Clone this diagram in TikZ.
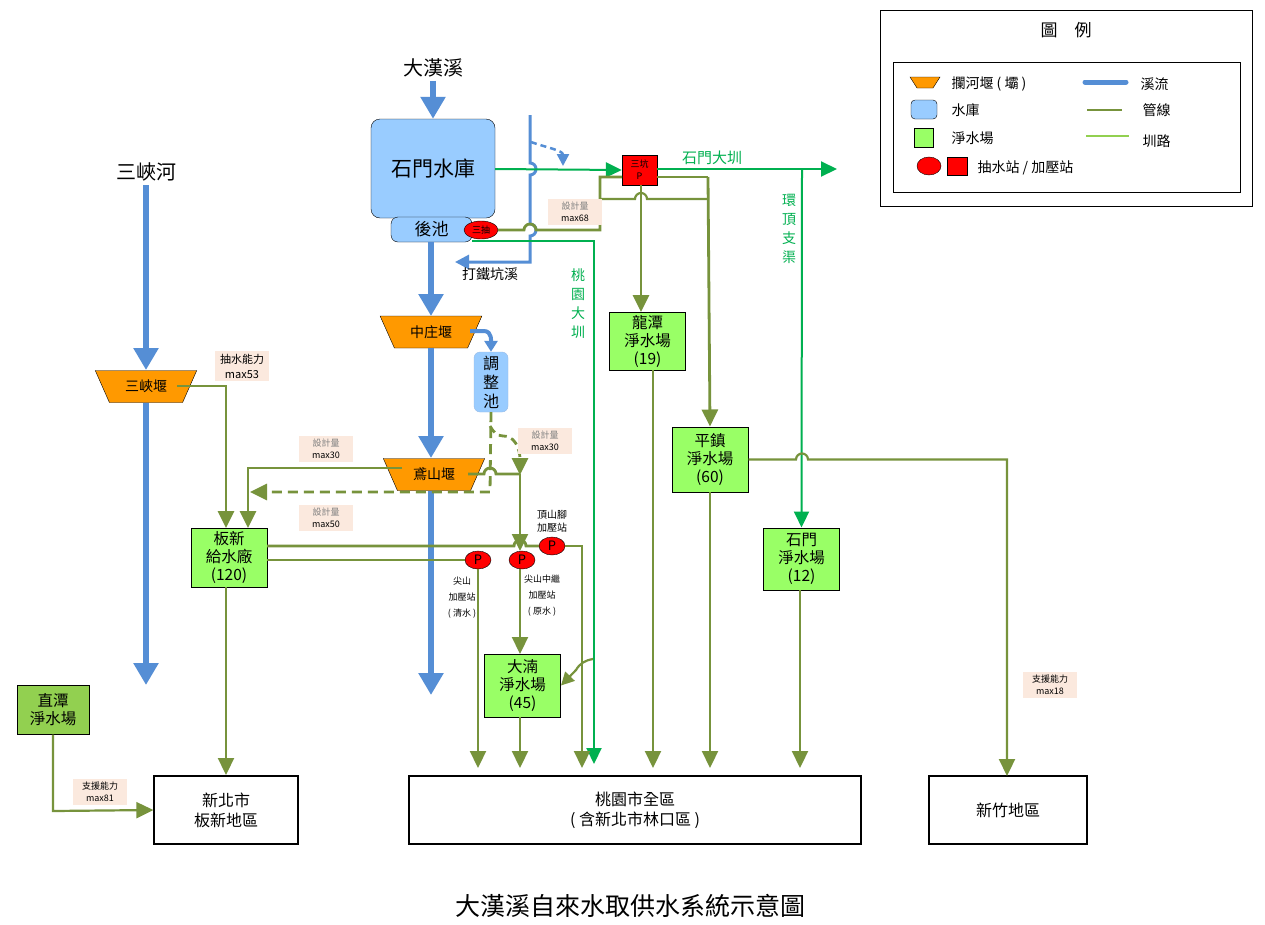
\documentclass[tikz,border=0pt]{standalone}
\usepackage{fontspec}
\setmainfont{Noto Sans CJK TC}
\usetikzlibrary{arrows.meta,shapes.geometric}
\definecolor{riv}{HTML}{558ED5}
\definecolor{pipe}{HTML}{77933C}
\definecolor{canal}{HTML}{00B050}
\definecolor{dam}{HTML}{FF9900}
\definecolor{res}{HTML}{99CCFF}
\definecolor{plant}{HTML}{99FF66}
\definecolor{plant2}{HTML}{92D050}
\definecolor{lab}{HTML}{FBE9DE}
\definecolor{cl}{HTML}{92D050}
\begin{document}
\begin{tikzpicture}[x=1pt,y=-1pt,
 river/.style={riv,line width=6.5pt,-{Triangle[width=24pt,length=22pt]}},
 rivs/.style={riv,line width=3pt},
 pp/.style={pipe,line width=2.8pt},
 ppa/.style={pipe,line width=2.8pt,-{Triangle[width=16pt,length=17pt]}},
 pth/.style={pipe,line width=2.2pt,-{Triangle[width=16pt,length=17pt]}},
 cna/.style={canal,line width=2pt,-{Triangle[width=15pt,length=16pt]}},
 plantbox/.style={draw=black,fill=plant,line width=1pt,minimum width=76pt,align=center,font=\fontsize{15.5}{18}\selectfont,inner sep=1pt},
 weir/.style={trapezium,shape border rotate=180,trapezium left angle=58,trapezium right angle=58,draw=black,fill=dam,minimum width=102pt,minimum height=32pt,inner sep=0pt,trapezium stretches=true,font=\fontsize{14}{16}\selectfont},
 tag/.style={fill=lab,align=center,font=\fontsize{9}{12}\selectfont,inner sep=3pt,minimum width=54pt},
 pump/.style={ellipse,draw=black,fill=red,minimum width=26pt,minimum height=18pt,inner sep=0pt,font=\fontsize{13}{13}\selectfont},
 small/.style={font=\fontsize{10}{13}\selectfont,align=center},
 leg/.style={anchor=west,font=\fontsize{14}{16}\selectfont},
 dest/.style={draw=black,line width=1.2pt,fill=white,align=center,font=\fontsize{16}{20}\selectfont}]
\useasboundingbox (0,0) rectangle (1265,924);
\fill[white] (0,0) rectangle (1265,924);

% legend
\draw[line width=1pt] (880,10) rectangle (1252,206);
\node at (1066,30) {\fontsize{17}{20}\selectfont 圖\quad 例};
\draw[line width=1pt] (893,62) rectangle (1240,192);
\fill[dam,draw=black] (910,77)--(940,77)--(933,88)--(917,88)--cycle;
\node[leg] at (948,84) {攔河堰 ( 壩 )};
\draw[fill=res,rounded corners=4pt] (911,100) rectangle (937,119);
\node[leg] at (948,110) {水庫};
\draw[fill=plant] (914,128) rectangle (933,147);
\node[leg] at (948,138) {淨水場};
\draw[fill=red] (929,166) ellipse (12pt and 9pt);
\draw[fill=red] (947,157) rectangle (967,175);
\node[leg] at (974,168) {抽水站 / 加壓站};
\draw[riv,line width=5pt,line cap=round] (1085,82)--(1126,82);
\node[leg] at (1137,84) {溪流};
\draw[pipe,line width=2pt] (1087,110)--(1122,110);
\node[leg] at (1139,110) {管線};
\draw[cl,line width=2pt] (1086,136)--(1129,136);
\node[leg] at (1139,141) {圳路};

% rivers / nodes
\node (dhx) at (433,68) {\fontsize{20}{22}\selectfont 大漢溪};
\node[draw=black,fill=res,rounded corners=9pt,minimum width=124pt,minimum height=99pt,font=\fontsize{21}{24}\selectfont] (smr) at (433,168.5) {石門水庫};
\node[draw=black,fill=res,rounded corners=7pt,minimum width=81pt,minimum height=25pt,font=\fontsize{17}{19}\selectfont,inner sep=0pt] (hc) at (431.5,229.5) {後池};
\node[pump,minimum width=34pt,font=\fontsize{9}{9}\selectfont] (sc) at (481,230) {三抽};
\draw[river] (dhx.south) -- (smr.north);
\node[weir] (zz) at (431,332) {中庄堰};
\node[weir] (ys) at (434,474.5) {鳶山堰};
\draw[river] (431,242) -- (431,316);
\draw[river] (431,348) -- (431,458);
\coordinate (ysend) at (431,695);
\draw[river] (431,491) -- (ysend);
\node (sxh) at (146,172) {\fontsize{20}{22}\selectfont 三峽河};
\node[weir] (sx) at (146,386.5) {三峽堰};
\draw[river] (146,185) -- (146,370);
\coordinate (sxend) at (146,685);
\draw[river] (146,403) -- (sxend);
\node[draw=riv!60,fill=res,rounded corners=6pt,minimum width=34pt,minimum height=60pt,align=center,font=\fontsize{16}{19}\selectfont,inner sep=0pt] (tzc) at (491,382) {調\\整\\池};
\draw[riv,line width=4pt,-{Triangle[width=13pt,length=11pt]}] (470,331) -- (484,331) to[out=0,in=90] (tzc.north);

% 打鐵坑溪
\coordinate (dtk) at (455,262);
\draw[rivs,-{Triangle[width=14pt,length=14pt]}] (530,115) -- (530,163) arc (-90:90:6) -- (530,224) arc(-90:90:6) -- (530,262) -- (dtk);
\draw[riv,line width=2.5pt,dash pattern=on 6pt off 4pt,-{Triangle[width=12pt,length=12pt]}] (531,142) to[out=-20,in=90] (563,166);
\node[font=\fontsize{14}{16}\selectfont] at (490,274) {打鐵坑溪};

% canals
\node[draw=black,fill=red,minimum width=35pt,minimum height=30pt,align=center,font=\fontsize{9}{12}\selectfont,inner sep=0pt] (sk) at (639.5,170) {三坑\\P};
\coordinate (smdze) at (837,169);
\draw[cna] (495,169) -- (sk.west);
\draw[cna] (657,169) -- (smdze);
\node[canal,font=\fontsize{15}{17}\selectfont] at (712,158) {石門大圳};
\node[plantbox,minimum height=58pt] (lt) at (647.5,341) {龍潭\\淨水場\\(19)};
\node[plantbox,minimum height=65pt] (pz) at (710,459.5) {平鎮\\淨水場\\(60)};
\node[plantbox,minimum height=62pt] (sm) at (801.5,559) {石門\\淨水場\\(12)};
\draw[cna] (802,169) -- (sm.north);
\node[canal,align=center,font=\fontsize{14}{19}\selectfont] at (789,229) {環\\頂\\支\\渠};
\coordinate (tyend) at (594,764);
\draw[cna] (472,241) -- (594,241) -- (tyend);
\node[canal,align=center,font=\fontsize{14}{19}\selectfont] at (578,304) {桃\\園\\大\\圳};

% pipes from 三抽 and 三坑
\draw[pp] (sc.east) -- (524,230) arc(180:360:6) -- (600,230) -- (600,177) -- (622,177);
\draw[pipe,line width=2.2pt] (600,199) -- (635,199) arc(180:360:6) -- (708,199);
\draw[pp] (657,177) -- (708,177);
\draw[ppa] (708,177) -- (pz.north);
\draw[ppa] (641,185) -- (641,312);
\node[tag] at (575,212) {\textcolor{gray}{設計量}\\max68};

% destinations
\node[dest,minimum width=452pt,minimum height=68pt] (ty) at (635,810) {桃園市全區\\( 含新北市林口區 )};
\node[dest,minimum width=144pt,minimum height=68pt] (xb) at (226,810) {新北市\\板新地區};
\node[dest,minimum width=158pt,minimum height=68pt] (xz) at (1008,810) {新竹地區};
\node[plantbox,fill=plant2,minimum width=72pt,minimum height=49pt] (zt) at (53,709.5) {直潭\\淨水場};
\draw[pth] (zt.south) -- (53,811) -- (xb.west);
\node[tag] at (100,792) {支援能力\\max81};

\draw[pth] (pz.east) -- (796,459.5) arc(180:360:6) -- (1007,459.5) -- (1007,776);
\node[tag] at (1050,685) {支援能力\\max18};
\draw[pth] (653,370) -- (653,768);
\draw[pth] (710,492) -- (710,768);
\draw[pth] (800,590) -- (800,768);

% 板新
\node[plantbox,minimum height=59pt] (bx) at (229,557.5) {板新\\給水廠\\(120)};
\draw[ppa] (177,386) -- (226,386) -- (226,528);
\node[tag,font=\fontsize{11}{15}\selectfont] at (242,366) {抽水能力\\max53};
\draw[ppa] (402,468) -- (248,468) -- (248,528);
\node[tag] at (326,449) {\textcolor{gray}{設計量}\\max30};
\draw[pipe,line width=2.8pt,dash pattern=on 10pt off 6pt,-{Triangle[width=16pt,length=17pt]}] (tzc.south) -- (490,492) -- (250,492);
\node[tag] at (326,518) {\textcolor{gray}{設計量}\\max50};
\draw[pipe,line width=2.8pt,dash pattern=on 8pt off 5pt,-{Triangle[width=16pt,length=17pt]}] (490,426) to[out=-60,in=180] (503,436) to[out=0,in=90] (520,475);
\node[tag] at (545,441) {\textcolor{gray}{設計量}\\max30};
\draw[pp] (468,474) -- (484,474) arc(180:360:6) -- (520,474);

% pumps
\node[pump] (js) at (478,560) {P};
\node[pump] (jz) at (522,560) {P};
\node[pump] (ds) at (552,546) {P};
\node[small] at (552,521) {頂山腳\\加壓站};
\node[small,font=\fontsize{9}{16}\selectfont] at (462,598) {尖山\\加壓站\\( 清水 )};
\node[small,font=\fontsize{9}{16}\selectfont] at (542,596) {尖山中繼\\加壓站\\( 原水 )};
\node[plantbox,minimum height=63pt] (dn) at (522.5,685.5) {大湳\\淨水場\\(45)};
\draw[pp] (267,546) -- (514,546) arc(180:360:6) -- (ds.west);
\draw[pp] (267,560) -- (js.west);
\draw[pth] (520,474) -- (520,551);
\draw[pth] (520,569) -- (520,654);
\draw[pth] (ds.east) -- (582,546) -- (582,768);
\draw[pth] (js.south) -- (478,768);
\draw[pth] (520,717) -- (520,768);
\draw[pth] (226,587) -- (226,775);
\draw[pipe,line width=2.2pt,-{Triangle[width=13pt,length=13pt]}] (593,659) to[out=190,in=60] (576,670) to (dn.east);

\node at (630,906) {\fontsize{25}{28}\selectfont 大漢溪自來水取供水系統示意圖};
\end{tikzpicture}
\end{document}
